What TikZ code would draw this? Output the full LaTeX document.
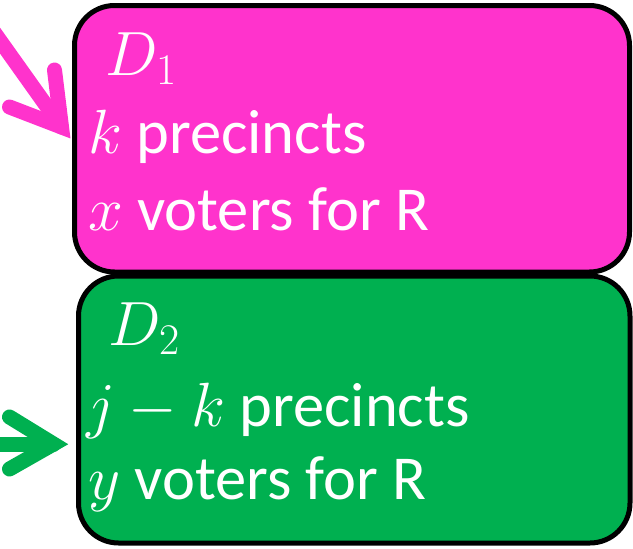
\documentclass[tikz,border=0pt]{standalone}
\usepackage{fix-cm}
\usepackage{fontspec}
\setmainfont{Carlito}
\usetikzlibrary{calc}
\definecolor{boxpink}{HTML}{FF33CC}
\definecolor{boxgreen}{HTML}{00B050}
\tikzset{
  district/.style={draw=black, line width=5pt, rounded corners=40pt, inner sep=0pt},
  linetext/.style={anchor=base west, inner sep=0pt, text=white,
                   font=\fontsize{62.5}{74}\selectfont},
  pointer/.style={line width=15pt, line cap=round, line join=miter},
}
\begin{document}
\begin{tikzpicture}[x=1pt,y=-1pt]
  \useasboundingbox (0,0) rectangle (633,549);

  % the two districts
  \node (d1) [district, fill=boxpink, minimum width=555pt, minimum height=266.5pt] at (352,138.75) {};
  \node (d2) [district, fill=boxgreen, minimum width=551.5pt, minimum height=267pt] at (354.25,409.5) {};

  % text of the first district
  \node (d1name)  [linetext] at (105,75)  {$D_1$};
  \node (d1prec)  [linetext] at (88,153)  {$k$ precincts};
  \node (d1vote)  [linetext] at (88,230)  {$x$ voters for R};

  % text of the second district
  \node (d2name)  [linetext] at (108,345) {$D_2$};
  \node (d2prec)  [linetext] at (86,426)  {$j-k$ precincts};
  \node (d2vote)  [linetext] at (88,499)  {$y$ voters for R};

  % pink pointer into the first district
  \coordinate (h1) at ($(d1.west)+(-10.5,-11.75)$);
  \coordinate (t1) at ($(h1)+(-84,-118)$);
  \coordinate (b1a) at ($(h1)+(-7,-57)$);
  \coordinate (b1b) at ($(h1)+(-52,-20)$);
  \draw[pointer, boxpink] (t1) -- (h1);
  \draw[pointer, boxpink] (b1a) -- (h1) -- (b1b);

  % green pointer into the second district
  \coordinate (h2) at ($(d2.west)+(-22.5,34.5)$);
  \coordinate (t2) at ($(h2)+(-80,0)$);
  \coordinate (b2a) at ($(h2)+(-44,-27)$);
  \coordinate (b2b) at ($(h2)+(-44,25)$);
  \draw[pointer, boxgreen] (t2) -- (h2);
  \draw[pointer, boxgreen] (b2a) -- (h2) -- (b2b);
\end{tikzpicture}
\end{document}
